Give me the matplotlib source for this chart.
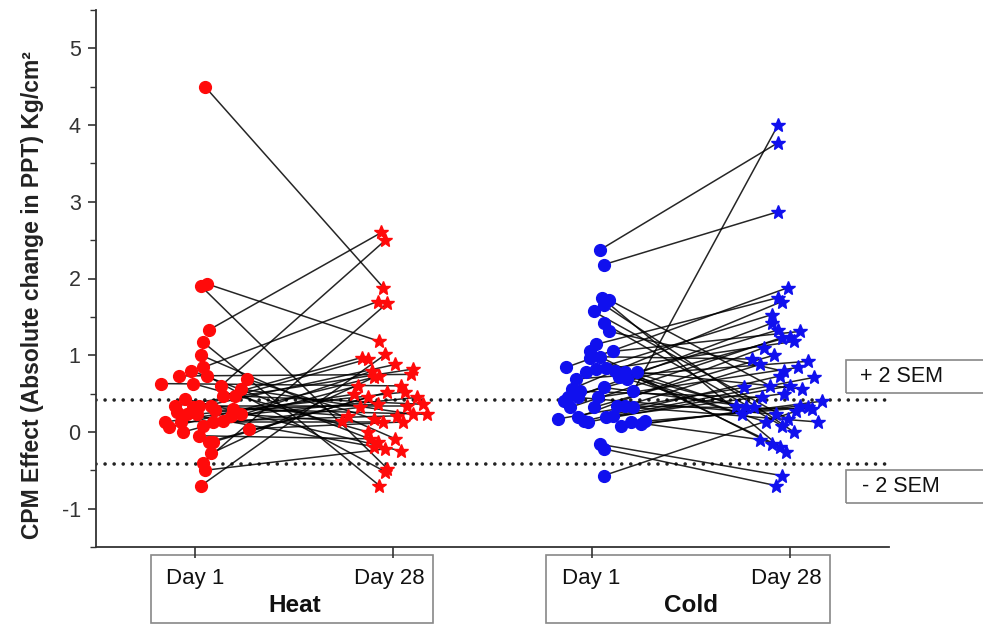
import matplotlib
matplotlib.use("Agg")
import matplotlib.pyplot as plt
from matplotlib.patches import Rectangle
from matplotlib.transforms import blended_transform_factory
from matplotlib.ticker import MultipleLocator

plt.rcParams['font.family'] = ['Liberation Sans', 'DejaVu Sans']
plt.rcParams['axes.unicode_minus'] = False

# ---------------- data ----------------
groups = ["Heat", "Cold"]
day_labels = ["Day 1", "Day 28"]
sem_labels = ["+ 2 SEM", "- 2 SEM"]
sem_limit = 0.42

heat_day1 = [4.50, 1.93, 1.90, 1.33, 1.17, 1.00, 0.84, 0.80, 0.73, 0.73, 0.69,
             0.63, 0.63, 0.60, 0.56, 0.47, 0.47, 0.43, 0.34, 0.34, 0.34, 0.32,
             0.30, 0.28, 0.26, 0.23, 0.23, 0.23, 0.21, 0.14, 0.13, 0.13, 0.13,
             0.08, 0.06, 0.04, 0.00, -0.05, -0.13, -0.13, -0.28, -0.40, -0.50, -0.70]
heat_day28 = [1.88, 1.18, -0.48, 2.60, -0.70, -0.09, 1.70, -0.13, 0.75, -0.52, 0.17,
              0.60, 0.00, 2.50, 0.23, 0.36, 0.97, -0.25, 0.82, 0.34, 0.21, 0.95,
              0.23, 0.36, 0.88, -0.19, 0.52, 0.14, 0.45, 0.79, 0.49, 0.21, 0.13,
              0.32, 0.73, 0.13, 0.60, -0.09, 0.52, 0.45, 0.71, 1.68, -0.22, 1.01]
heat_day1_jitter = [0.05, 0.06, 0.03, 0.07, 0.04, 0.03, 0.04, -0.02, -0.08, 0.06, 0.26,
                    -0.17, -0.01, 0.13, 0.23, 0.20, 0.14, -0.05, -0.10, 0.02, 0.08, -0.01,
                    0.19, 0.10, -0.09, -0.04, 0.01, 0.23, 0.18, 0.14, -0.15, -0.07, 0.09,
                    0.04, -0.13, 0.27, -0.06, 0.02, 0.07, 0.09, 0.08, 0.04, 0.05, 0.03]
heat_day28_jitter = [-0.05, -0.07, -0.03, -0.06, -0.07, 0.01, -0.08, -0.08, 0.09, -0.04, -0.10,
                     0.04, -0.13, -0.04, 0.10, 0.15, -0.16, 0.04, 0.10, 0.07, -0.23, -0.13,
                     0.17, -0.08, 0.01, -0.10, 0.06, -0.26, 0.12, -0.11, -0.20, 0.02, -0.05,
                     -0.17, -0.07, 0.05, -0.18, -0.12, -0.03, -0.13, -0.10, -0.03, -0.04, -0.04]

cold_day1 = [2.37, 2.18, 1.75, 1.72, 1.66, 1.57, 1.42, 1.31, 1.14, 1.05, 0.98, 0.97,
             1.05, 0.84, 0.83, 0.82, 0.79, 0.78, 0.78, 0.78, 0.71, 0.69, 0.69, 0.58,
             0.56, 0.53, 0.53, 0.45, 0.45, 0.45, 0.40, 0.34, 0.34, 0.32, 0.32, 0.32,
             0.21, 0.19, 0.19, 0.17, 0.14, 0.14, 0.13, 0.13, 0.10, 0.08, -0.16, -0.22, -0.57]
cold_day28 = [3.77, 2.87, -0.26, 0.60, 0.00, 0.17, 0.08, 0.79, 1.75, -0.16, 0.95, 0.34,
              1.31, 1.88, 0.23, 1.53, 0.32, 1.18, -0.19, 0.56, 1.33, 0.13, 0.92, 0.32,
              1.70, 0.45, 4.00, 1.24, 0.23, 0.84, 1.42, 0.30, 0.88, 1.23, 1.00, 0.13,
              0.71, 1.10, 0.50, 0.58, 0.73, 0.32, 0.60, -0.10, 0.40, 0.34, -0.57, -0.70, 0.27]
cold_day1_jitter = [0.04, 0.06, 0.05, 0.09, 0.06, 0.01, 0.06, 0.09, 0.02, -0.01, 0.04, -0.01,
                    0.11, -0.13, 0.07, 0.02, 0.12, -0.03, 0.17, 0.23, 0.14, 0.18, -0.08, 0.06,
                    -0.10, -0.06, 0.21, -0.12, -0.07, 0.03, -0.14, 0.13, 0.17, -0.11, 0.01, 0.21,
                    0.11, -0.07, 0.07, -0.17, -0.04, 0.27, -0.02, 0.20, 0.25, 0.15, 0.04, 0.06, 0.06]
cold_day28_jitter = [-0.06, -0.06, -0.02, -0.10, 0.02, -0.01, -0.04, -0.03, -0.06, -0.09, -0.19, -0.27,
                     0.05, -0.01, -0.24, -0.09, -0.22, 0.02, -0.05, 0.06, -0.06, -0.12, 0.09, -0.18,
                     -0.04, -0.14, -0.06, 0.00, -0.07, 0.04, -0.09, 0.11, -0.15, -0.04, -0.08, 0.14,
                     0.12, -0.13, -0.03, -0.23, -0.05, 0.09, 0.00, -0.15, 0.16, 0.05, -0.04, -0.07, 0.03]

positions = [1, 2, 3, 4]   # Heat Day1, Heat Day28, Cold Day1, Cold Day28

# ---------------- figure ----------------
fig = plt.figure(figsize=(9.83, 6.28), dpi=100)
ax = fig.add_axes([96 / 983, 81 / 628, 793 / 983, 537 / 628])

series = [
    (heat_day1, heat_day28, heat_day1_jitter, heat_day28_jitter, positions[0], positions[1], "#ff0a0a"),
    (cold_day1, cold_day28, cold_day1_jitter, cold_day28_jitter, positions[2], positions[3], "#1010ee"),
]
for d1, d28, j1, j28, p1, p2, col in series:
    for y1, y2, a, b in zip(d1, d28, j1, j28):
        ax.plot([p1 + a, p2 + b], [y1, y2], color="black", lw=1.1, alpha=0.85, zorder=2)
    ax.plot([p1 + a for a in j1], d1, linestyle="none", marker="o", ms=8.5,
            color=col, mec=col, zorder=3)
    ax.plot([p2 + b for b in j28], d28, linestyle="none", marker="*", ms=10.5,
            color=col, mec=col, zorder=3)

for v in (sem_limit, -sem_limit):
    ax.axhline(v, color="#222222", lw=2.6, linestyle=(0, (0.01, 2.5)),
               dash_capstyle="round", zorder=1)

ax.set_xlim(0.5, 4.5)
ax.set_ylim(-1.5, 5.5)
for s in ("top", "right"):
    ax.spines[s].set_visible(False)
for s in ("left", "bottom"):
    ax.spines[s].set_color("#333333")
    ax.spines[s].set_linewidth(1.3)

ax.yaxis.set_major_locator(MultipleLocator(1))
ax.yaxis.set_minor_locator(MultipleLocator(0.5))
ax.set_yticks([-1, 0, 1, 2, 3, 4, 5])
ax.tick_params(axis="y", which="major", direction="out", length=6, width=1.2,
               colors="#333333", labelsize=15.5, pad=5)
ax.tick_params(axis="y", which="minor", direction="out", length=4, width=1.0, colors="#333333")
ax.set_xticks(positions)
ax.set_xticklabels([])
ax.tick_params(axis="x", direction="out", length=8, width=1.2, colors="#333333")

ax.set_ylabel("CPM Effect (Absolute change in PPT) Kg/cm²", fontsize=16.5,
              fontweight="bold", color="#222222")
ax.yaxis.set_label_coords(-0.066, 0.47)

# group boxes below axis
tr = blended_transform_factory(ax.transData, fig.transFigure)
box_spans = [(0.775, 2.2), (2.77, 4.2)]
for g, (x0, x1), (p1, p2) in zip(groups, box_spans, [(positions[0], positions[1]), (positions[2], positions[3])]):
    ax.add_patch(Rectangle((x0, 0.008), x1 - x0, 0.108, transform=tr, clip_on=False,
                           fill=False, edgecolor="#888888", lw=1.2))
    ax.text(p1, 0.079, day_labels[0], transform=tr, ha="center", va="center",
            fontsize=16, color="#111111")
    ax.text(p2 - 0.02, 0.079, day_labels[1], transform=tr, ha="center", va="center",
            fontsize=16, color="#111111")
    ax.text((p1 + p2) / 2, 0.036, g, transform=tr, ha="center", va="center",
            fontsize=17.5, fontweight="bold", color="#111111")

# SEM boxes
for lab, y0 in zip(sem_labels, (235 / 628, 125 / 628)):
    fig.patches.append(Rectangle((846 / 983, y0), 0.2, 33 / 628, transform=fig.transFigure,
                                 fill=False, edgecolor="#888888", lw=1.2))
    fig.text(901 / 983, y0 + 16.5 / 628, lab, ha="center", va="center",
             fontsize=15.5, color="#111111")

fig.savefig("out.png", dpi=100)
